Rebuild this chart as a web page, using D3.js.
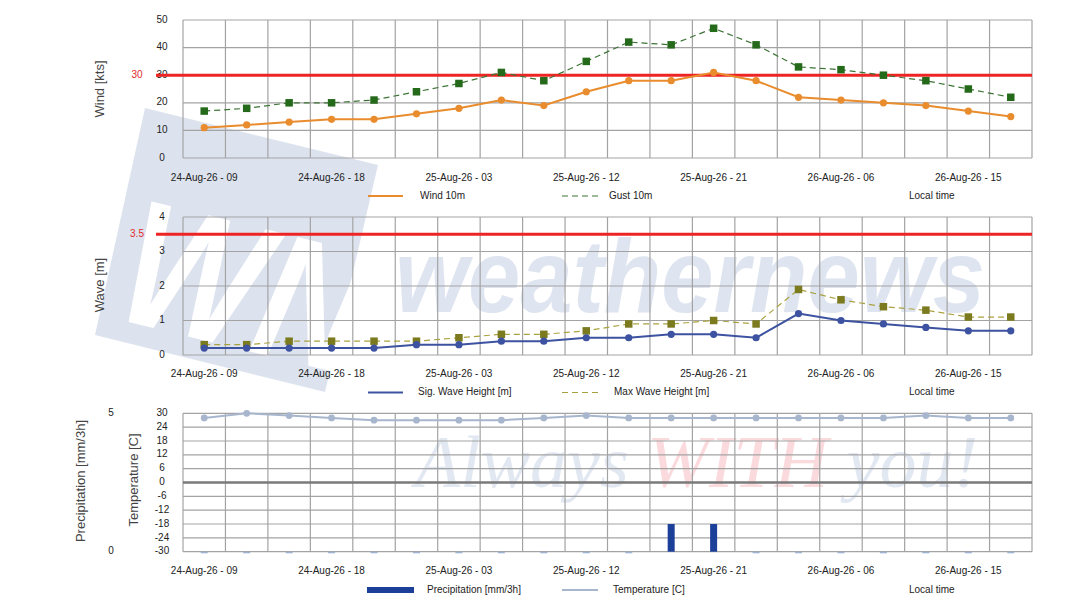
<!DOCTYPE html>
<html>
<head>
<meta charset="utf-8">
<script src="https://cdn.jsdelivr.net/npm/d3@7"></script>
<style>
  body { margin: 0; background: #fff; }
  svg { display: block; font-family: "Liberation Sans", Arial, sans-serif; }
</style>
</head>
<body>
<div id="wrapper"></div>
<script>
// 3-hourly forecast steps
const times = [
    "24-Aug-26 - 09", "24-Aug-26 - 12", "24-Aug-26 - 15", "24-Aug-26 - 18", "24-Aug-26 - 21",
    "25-Aug-26 - 00", "25-Aug-26 - 03", "25-Aug-26 - 06", "25-Aug-26 - 09", "25-Aug-26 - 12",
    "25-Aug-26 - 15", "25-Aug-26 - 18", "25-Aug-26 - 21", "26-Aug-26 - 00", "26-Aug-26 - 03",
    "26-Aug-26 - 06", "26-Aug-26 - 09", "26-Aug-26 - 12", "26-Aug-26 - 15", "26-Aug-26 - 18"
]
const tickTimes = ["24-Aug-26 - 09", "24-Aug-26 - 18", "25-Aug-26 - 03", "25-Aug-26 - 12",
    "25-Aug-26 - 21", "26-Aug-26 - 06", "26-Aug-26 - 15"]

const wind10m = [11, 12, 13, 14, 14, 16, 18, 21, 19, 24, 28, 28, 31, 28, 22, 21, 20, 19, 17, 15]
const gust10m = [17, 18, 20, 20, 21, 24, 27, 31, 28, 35, 42, 41, 47, 41, 33, 32, 30, 28, 25, 22]
const sigWave = [0.2, 0.2, 0.2, 0.2, 0.2, 0.3, 0.3, 0.4, 0.4, 0.5, 0.5, 0.6, 0.6, 0.5, 1.2, 1.0, 0.9, 0.8, 0.7, 0.7]
const maxWave = [0.3, 0.3, 0.4, 0.4, 0.4, 0.4, 0.5, 0.6, 0.6, 0.7, 0.9, 0.9, 1.0, 0.9, 1.9, 1.6, 1.4, 1.3, 1.1, 1.1]
const temperature = [28, 30, 29, 28, 27, 27, 27, 27, 28, 29, 28, 28, 28, 28, 28, 28, 28, 29, 28, 28]
const precipitation = [0, 0, 0, 0, 0, 0, 0, 0, 0, 0, 0, 1, 1, 0, 0, 0, 0, 0, 0, 0]

const windTicks = [0, 10, 20, 30, 40, 50]
const waveTicks = [0, 1, 2, 3, 4]
const tempTicks = [30, 24, 18, 12, 6, 0, -6, -12, -18, -24, -30]
const precipTicks = [0, 5]
const windLimit = 30
const waveLimit = 3.5

let dimensions = {
    width: 1084,
    height: 609,
    plotLeft: 183,
    plotRight: 1032,
}

const svg = d3.select("#wrapper")
    .append("svg")
    .attr("width", dimensions.width)
    .attr("height", dimensions.height)

// watermark (logo + slogan) sits behind everything
const wm = svg.append("g").attr("class", "watermark")
wm.append("polygon")
    .attr("points", "145,108 378,165 325,392 95,335")
    .attr("fill", "#dde3ee")
wm.append("text")
    .attr("transform", "translate(112, 318) rotate(13.7)")
    .attr("font-size", 178).attr("font-weight", "bold").attr("font-style", "italic")
    .attr("textLength", 245).attr("lengthAdjust", "spacingAndGlyphs")
    .attr("fill", "#fff")
    .text("WN")
wm.append("text")
    .attr("x", 395).attr("y", 312)
    .attr("font-size", 104).attr("font-weight", "bold").attr("font-style", "italic")
    .attr("textLength", 590).attr("lengthAdjust", "spacingAndGlyphs")
    .attr("fill", "#dfe5f0")
    .text("weathernews")
const slogan = wm.append("text")
    .attr("x", 415).attr("y", 487)
    .attr("font-family", "'Liberation Serif', serif")
    .attr("font-size", 74).attr("font-style", "italic")
slogan.append("tspan").attr("fill", "#e2e8f2").text("Always ")
slogan.append("tspan").attr("fill", "#fbdadd").text("WITH")
slogan.append("tspan").attr("fill", "#e2e8f2").text(" you!")

const x = d3.scaleBand()
    .domain(times)
    .range([dimensions.plotLeft, dimensions.plotRight])
const cx = (d, i) => x(times[i]) + x.bandwidth() / 2

function drawGrid(g, y, ticks) {
    g.selectAll(".hgrid")
        .data(ticks)
        .join("line")
        .attr("x1", dimensions.plotLeft).attr("x2", dimensions.plotRight)
        .attr("y1", d => y(d)).attr("y2", d => y(d))
        .attr("stroke", "#a3a3a3").attr("stroke-width", 1.2)
    g.selectAll(".vgrid")
        .data([...times.map(t => x(t)), dimensions.plotRight])
        .join("line")
        .attr("x1", d => d).attr("x2", d => d)
        .attr("y1", y.range()[0]).attr("y2", y.range()[1])
        .attr("stroke", "#a3a3a3").attr("stroke-width", 1.2)
}

function drawYLabels(g, y, ticks, xPos, color) {
    g.selectAll(null)
        .data(ticks)
        .join("text")
        .attr("x", xPos).attr("y", d => y(d))
        .attr("text-anchor", "middle").attr("dominant-baseline", "middle")
        .attr("font-size", 10).attr("fill", color || "#222")
        .text(d => d)
}

function drawXLabels(g, yPos) {
    g.selectAll(null)
        .data(tickTimes)
        .join("text")
        .attr("x", d => x(d) + x.bandwidth() / 2).attr("y", yPos)
        .attr("text-anchor", "middle").attr("dominant-baseline", "middle")
        .attr("font-size", 10).attr("fill", "#222")
        .text(d => d)
}

function drawTitle(g, label, xPos, yPos) {
    g.append("text")
        .attr("transform", `translate(${xPos}, ${yPos}) rotate(-90)`)
        .attr("text-anchor", "middle").attr("dominant-baseline", "middle")
        .attr("font-size", 13).attr("fill", "#444")
        .text(label)
}

function drawLegend(g, yPos, items) {
    items.forEach(it => {
        if (it.bar) {
            g.append("rect")
                .attr("x", it.x1).attr("y", yPos - 3)
                .attr("width", it.x2 - it.x1).attr("height", 6)
                .attr("fill", it.color)
        } else if (it.x1 != null) {
            g.append("line")
                .attr("x1", it.x1).attr("x2", it.x2)
                .attr("y1", yPos).attr("y2", yPos)
                .attr("stroke", it.color).attr("stroke-width", it.width || 1.5)
                .attr("stroke-dasharray", it.dash || null)
        }
        g.append("text")
            .attr("x", it.tx).attr("y", yPos)
            .attr("dominant-baseline", "middle")
            .attr("font-size", 10).attr("fill", "#222")
            .text(it.label)
    })
}

function drawLimit(g, y, value) {
    g.append("line")
        .attr("x1", 156).attr("x2", dimensions.plotRight)
        .attr("y1", y(value)).attr("y2", y(value))
        .attr("stroke", "#ee2424").attr("stroke-width", 3)
    g.append("text")
        .attr("x", 137).attr("y", y(value))
        .attr("text-anchor", "middle").attr("dominant-baseline", "middle")
        .attr("font-size", 10).attr("fill", "#e02b2b")
        .text(value)
}

function lineSeries(g, y, values, color, width, dash) {
    g.append("path")
        .datum(values)
        .attr("d", d3.line().x(cx).y(d => y(d)))
        .attr("fill", "none")
        .attr("stroke", color).attr("stroke-width", width)
        .attr("stroke-dasharray", dash || null)
}

function circles(g, y, values, color, r) {
    g.selectAll(null)
        .data(values)
        .join("circle")
        .attr("cx", cx).attr("cy", d => y(d)).attr("r", r)
        .attr("fill", color)
}

function squares(g, y, values, color, s) {
    g.selectAll(null)
        .data(values)
        .join("rect")
        .attr("x", (d, i) => cx(d, i) - s / 2).attr("y", d => y(d) - s / 2)
        .attr("width", s).attr("height", s)
        .attr("fill", color)
}

// ---- wind panel
const yWind = d3.scaleLinear().domain([0, 50]).range([158, 20])
const windG = svg.append("g").attr("class", "wind")
drawGrid(windG, yWind, windTicks)
drawYLabels(windG, yWind, windTicks, 162)
drawTitle(windG, "Wind [kts]", 101, 89)
drawLimit(windG, yWind, windLimit)
lineSeries(windG, yWind, gust10m, "#3d7436", 1.2, "6,4")
squares(windG, yWind, gust10m, "#256a1b", 7.5)
lineSeries(windG, yWind, wind10m, "#e98c2e", 2)
circles(windG, yWind, wind10m, "#e98c2e", 3.6)
drawXLabels(windG, 178)
drawLegend(windG, 196, [
    { x1: 368, x2: 403, color: "#e98c2e", width: 2, tx: 420, label: "Wind 10m" },
    { x1: 562, x2: 598, color: "#3d7436", width: 1.2, dash: "6,4", tx: 609, label: "Gust 10m" },
    { tx: 909, label: "Local time" },
])

// ---- wave panel
const yWave = d3.scaleLinear().domain([0, 4]).range([355, 217])
const waveG = svg.append("g").attr("class", "wave")
drawGrid(waveG, yWave, waveTicks)
drawYLabels(waveG, yWave, waveTicks, 162)
drawTitle(waveG, "Wave [m]", 101, 285)
drawLimit(waveG, yWave, waveLimit)
lineSeries(waveG, yWave, maxWave, "#aaa240", 1.2, "6,4")
squares(waveG, yWave, maxWave, "#7b7a1f", 7.5)
lineSeries(waveG, yWave, sigWave, "#3d52a0", 2)
circles(waveG, yWave, sigWave, "#3d52a0", 3.6)
drawXLabels(waveG, 374)
drawLegend(waveG, 392.5, [
    { x1: 368, x2: 403, color: "#3d52a0", width: 2, tx: 418, label: "Sig. Wave Height [m]" },
    { x1: 562, x2: 598, color: "#aaa240", width: 1.2, dash: "6,4", tx: 614, label: "Max Wave Height [m]" },
    { tx: 909, label: "Local time" },
])

// ---- temperature / precipitation panel
const yTemp = d3.scaleLinear().domain([-30, 30]).range([551.7, 413.3])
const yPrecip = d3.scaleLinear().domain([0, 5]).range([551.7, 413.3])
const metG = svg.append("g").attr("class", "met")
drawGrid(metG, yTemp, tempTicks)
metG.append("line")
    .attr("x1", dimensions.plotLeft).attr("x2", dimensions.plotRight)
    .attr("y1", yTemp(0)).attr("y2", yTemp(0))
    .attr("stroke", "#7a7a7a").attr("stroke-width", 2.5)
drawYLabels(metG, yTemp, tempTicks, 162)
drawYLabels(metG, yPrecip, precipTicks, 111)
drawTitle(metG, "Precipitation [mm/3h]", 82, 481)
drawTitle(metG, "Temperature [C]", 135, 480)
metG.selectAll(".bar")
    .data(precipitation)
    .join("rect")
    .attr("x", (d, i) => cx(d, i) - 3.5)
    .attr("y", d => d > 0 ? yPrecip(d) : yPrecip(0))
    .attr("width", 7)
    .attr("height", d => d > 0 ? yPrecip(0) - yPrecip(d) : 1.6)
    .attr("fill", d => d > 0 ? "#1c3f99" : "#9fb3d0")
lineSeries(metG, yTemp, temperature, "#a7b6cd", 2)
circles(metG, yTemp, temperature, "#a7b6cd", 3.4)
drawXLabels(metG, 571)
drawLegend(metG, 590, [
    { x1: 367, x2: 414, color: "#1c3f99", bar: true, tx: 427, label: "Precipitation [mm/3h]" },
    { x1: 562, x2: 598, color: "#a7b6cd", width: 2, tx: 613, label: "Temperature [C]" },
    { tx: 909, label: "Local time" },
])
</script>
</body>
</html>
